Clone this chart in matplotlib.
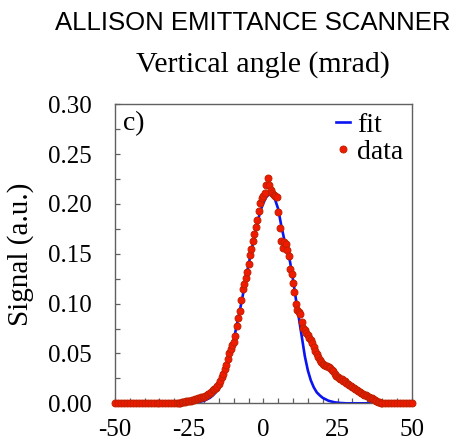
import matplotlib
matplotlib.use("Agg")
import matplotlib.pyplot as plt
from matplotlib.ticker import MultipleLocator, FormatStrFormatter

# ---- measured beam profile (vertical angle, mrad) ----
angle_data = [
    -50, -49, -48, -47, -46, -45, -44, -43, -42, -41, -40, -39, -38, -37, -36,
    -35, -34, -33, -32, -31, -30, -29, -28.5,
    -28, -27.5, -27, -26.5, -26, -25.5, -25, -24.5, -24, -23.5, -23, -22.5,
    -22, -21.5, -21, -20.5, -20, -19.5, -19, -18.5, -18, -17.5, -17, -16.5,
    -16, -15.5, -15, -14.5, -14, -13.5, -13, -12.5, -12, -11.5, -11, -10.5,
    -10, -9.5, -9, -8.5, -8, -7.5, -7, -6.5, -6, -5.5, -5, -4.5, -4, -3.5,
    -3, -2.5, -2, -1.5, -1, -0.5, 0, 0.5, 1, 1.5, 2, 2.5, 3, 3.5, 4, 4.5,
    5, 5.5, 6, 6.5, 7, 7.5, 8, 8.5, 9, 9.5, 10, 10.5, 11, 11.5, 12, 12.5,
    13, 13.5, 14, 14.5, 15, 15.5, 16, 16.5, 17, 17.5, 18, 18.5, 19, 19.5,
    20, 20.5, 21, 21.5, 22, 22.5, 23, 23.5, 24, 24.5, 25, 25.5, 26, 26.5,
    27, 27.5, 28, 28.5, 29, 29.5, 30, 30.5, 31, 31.5, 32, 32.5, 33, 33.5,
    34, 34.5, 35, 35.5, 36, 36.5, 37, 37.5, 38, 38.5, 39, 39.5,
    40, 41, 42, 43, 44, 45, 46, 47, 48, 49, 50,
]
signal_data = [
    0, 0, 0, 0, 0, 0, 0, 0, 0, 0, 0, 0, 0, 0, 0,
    0, 0, 0, 0, 0, 0, 0, 0,
    0.0006, 0.0010, 0.0013, 0.0017, 0.0020, 0.0022, 0.0025, 0.0028, 0.0032,
    0.0036, 0.0040, 0.0043, 0.0050, 0.0055, 0.0060, 0.0063, 0.0068, 0.0073,
    0.0080, 0.0090, 0.0100, 0.0115, 0.0130, 0.0145,
    0.015, 0.017, 0.019, 0.022, 0.026, 0.029, 0.034, 0.038, 0.044, 0.050,
    0.054, 0.059,
    0.062, 0.068, 0.078, 0.086, 0.093, 0.104, 0.115, 0.120, 0.126, 0.132,
    0.140, 0.149, 0.155, 0.163,
    0.170, 0.177, 0.184, 0.193, 0.201, 0.206, 0.208, 0.211, 0.219, 0.226,
    0.219, 0.214, 0.211, 0.209, 0.208, 0.207,
    0.192, 0.176, 0.163, 0.156, 0.162, 0.160, 0.154, 0.148, 0.135, 0.130,
    0.121, 0.112, 0.100, 0.094, 0.092, 0.090,
    0.082, 0.076, 0.074, 0.071, 0.069, 0.066, 0.064, 0.061, 0.056, 0.052,
    0.049, 0.046, 0.043, 0.041,
    0.039, 0.038, 0.037, 0.037, 0.036, 0.035, 0.033, 0.032, 0.029, 0.027,
    0.026, 0.025, 0.024, 0.024,
    0.022, 0.022, 0.020, 0.019, 0.018, 0.017, 0.016, 0.015, 0.014, 0.013,
    0.012, 0.011, 0.010, 0.009,
    0.0085, 0.008, 0.007, 0.0065, 0.0055, 0.005, 0.004, 0.003, 0.0025,
    0.0015, 0.001, 0.0003,
    0, 0, 0, 0, 0, 0, 0, 0, 0, 0, 0,
]

# ---- fitted profile ----
angle_fit = [
    -50, -30, -26, -24, -22, -20, -18, -17, -16, -15, -14, -13, -12, -11,
    -10, -9, -8, -7, -6, -5, -4, -3, -2, -1, 0, 1, 2, 3, 4, 5, 6, 7, 8, 9,
    10, 11, 12, 13, 14, 15, 16, 17, 18, 19, 20, 22, 24, 26, 28, 30, 50,
]
signal_fit = [
    0, 0, 0, 0.0003, 0.001, 0.0025, 0.0055, 0.008, 0.011, 0.015, 0.021,
    0.030, 0.040, 0.052,
    0.063, 0.078, 0.092, 0.107, 0.124, 0.139, 0.153, 0.168, 0.181, 0.193,
    0.201, 0.207, 0.210, 0.208, 0.204, 0.195, 0.179, 0.165, 0.154, 0.142,
    0.124, 0.104, 0.085, 0.066, 0.047, 0.033, 0.023, 0.016, 0.011, 0.008,
    0.0055, 0.0025, 0.001, 0.0003, 0, 0, 0,
]

x_ticks = [-50, -25, 0, 25, 50]
y_ticks = [0.00, 0.05, 0.10, 0.15, 0.20, 0.25, 0.30]

serif = "Liberation Serif"
plt.rcParams["axes.unicode_minus"] = False

fig = plt.figure(figsize=(4.64, 4.40), dpi=100)
ax = fig.add_axes([0.2478, 0.0834, 0.6395, 0.6795])

ax.plot(angle_fit, signal_fit, color="#0a14f0", lw=1.9, label="fit", zorder=2)
ax.plot(angle_data, signal_data, linestyle="none", marker="o", ms=5.0,
        markerfacecolor="#f01a00", markeredgecolor="#c02000", mew=0.7,
        label="data", clip_on=False, zorder=3)

ax.set_xlim(-50, 50)
ax.set_ylim(0, 0.30)
ax.set_xticks(x_ticks)
ax.set_yticks(y_ticks)
ax.xaxis.set_minor_locator(MultipleLocator(5))
ax.yaxis.set_minor_locator(MultipleLocator(0.025))
ax.yaxis.set_major_formatter(FormatStrFormatter("%.2f"))

frame_color = "#606060"
for s in ax.spines.values():
    s.set_color(frame_color)
    s.set_linewidth(1.0)
ax.tick_params(which="both", direction="in", length=3.6, width=0.9,
               color=frame_color, top=False, right=False)
ax.tick_params(axis="y", which="major", pad=17)
ax.tick_params(axis="x", which="major", pad=11)
for lab in ax.get_xticklabels() + ax.get_yticklabels():
    lab.set_fontfamily(serif)
    lab.set_fontsize(18)

ax.set_ylabel("Signal (a.u.)", fontfamily=serif, fontsize=21)
ax.yaxis.set_label_coords(-0.272, 0.5)

ax.text(0.5, 1.108, "Vertical angle (mrad)", transform=ax.transAxes,
        ha="center", va="baseline", fontfamily=serif, fontsize=21.5)
ax.text(0.027, 0.914, "c)", transform=ax.transAxes, ha="left",
        va="baseline", fontfamily=serif, fontsize=20)

leg = ax.legend(loc="upper right", frameon=False, handlelength=0.5,
                handletextpad=0.25, labelspacing=0.05, borderpad=0.0,
                borderaxespad=0.3, prop={"family": serif, "size": 20})

fig.text(253 / 464, 1 - 30 / 440, "ALLISON EMITTANCE SCANNER",
         ha="center", va="baseline", fontsize=18.5, family="Liberation Sans")

fig.savefig("out.png", dpi=100)
